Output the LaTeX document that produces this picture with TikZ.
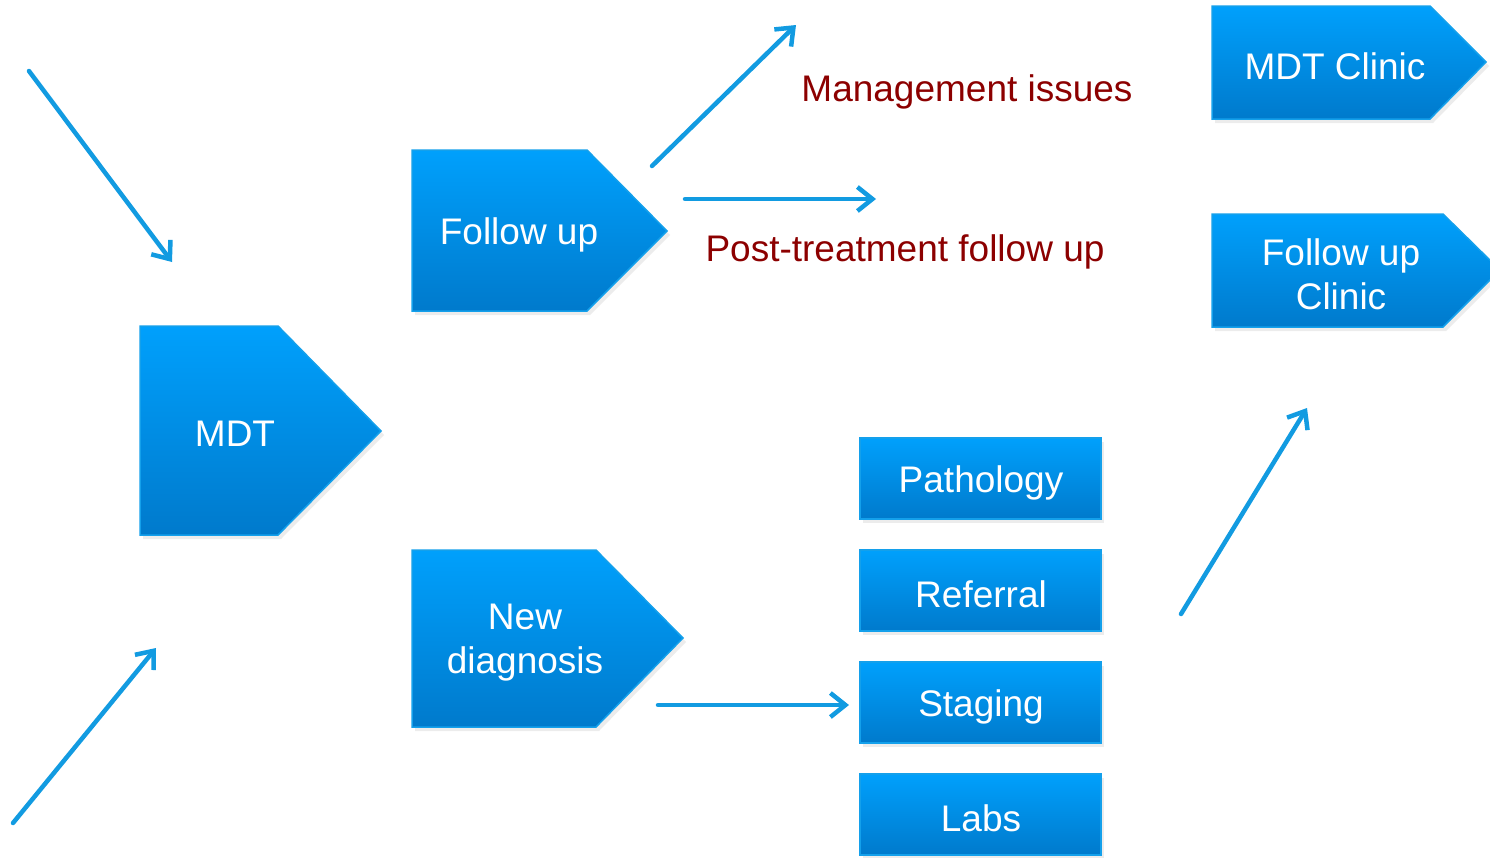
\documentclass[tikz,border=0pt]{standalone}
\usepackage{fontspec}
\setmainfont{Liberation Sans}
\usetikzlibrary{arrows.meta,shadows}
\definecolor{btop}{RGB}{0,160,252}
\definecolor{bbot}{RGB}{0,122,204}
\definecolor{bedge}{RGB}{20,160,235}
\definecolor{arr}{RGB}{18,155,225}
\definecolor{dred}{RGB}{140,0,0}
\tikzset{
  blk/.style={top color=btop, bottom color=bbot, draw=bedge, line width=1.5pt,
    drop shadow={opacity=0.15, shadow xshift=3pt, shadow yshift=-4pt}},
  lbl/.style={text=white, font=\fontsize{37}{44}\selectfont, align=center, inner sep=0pt},
  note/.style={text=dred, font=\fontsize{37}{44}\selectfont, inner sep=0pt},
  conn/.style={draw=arr, line width=4.5pt, line cap=round, -{Straight Barb[length=15pt,width=24pt,line width=4.5pt]}}
}
\begin{document}
\begin{tikzpicture}[x=1pt,y=-1pt]
\useasboundingbox (0,0) rectangle (1490,857);
\begin{scope}
\clip (0,0) rectangle (1490,857);
% pentagon blocks
\path[blk] (140,326) -- (278,326) -- (381,431) -- (278,535) -- (140,535) -- cycle;
\path[blk] (412,150) -- (587,150) -- (667,231) -- (587,311) -- (412,311) -- cycle;
\path[blk] (412,550) -- (596,550) -- (683,638) -- (596,727) -- (412,727) -- cycle;
\path[blk] (1212,6) -- (1430,6) -- (1486,62) -- (1430,119) -- (1212,119) -- cycle;
\path[blk] (1212,214) -- (1443,214) -- (1500,270) -- (1443,327) -- (1212,327) -- cycle;
% rectangles
\path[blk] (860,438) rectangle (1101,519);
\path[blk] (860,550) rectangle (1101,631);
\path[blk] (860,662) rectangle (1101,743);
\path[blk] (860,774) rectangle (1101,855);
\end{scope}
% labels
\node[lbl] (mdt) at (235,434) {MDT};
\node[lbl] (fu) at (519,235) {Follow up};
\node[lbl] (nd) at (525,643) {New\\diagnosis};
\node[lbl] (mdtc) at (1335,66) {MDT Clinic};
\node[lbl] (fuc) at (1341,274) {Follow up\\Clinic};
\node[lbl] (path) at (981,483) {Pathology};
\node[lbl] (ref) at (981,594) {Referral};
\node[lbl] (stag) at (981,707) {Staging};
\node[lbl] (labs) at (981,818) {Labs};
\node[note] (mgmt) at (967,92) {Management issues};
\node[note] (post) at (905,252) {Post-treatment follow up};
% arrow endpoints
\coordinate (a1s) at (29,71);   \coordinate (a1e) at (172,262);
\coordinate (a2s) at (13,823);  \coordinate (a2e) at (156,648);
\coordinate (a3s) at (652,166); \coordinate (a3e) at (796,25);
\coordinate (a4s) at (685,199); \coordinate (a4e) at (876,199);
\coordinate (a5s) at (658,705); \coordinate (a5e) at (849,705);
\coordinate (a6s) at (1181,614);\coordinate (a6e) at (1307,408);
\draw[conn] (a1s) -- (a1e);
\draw[conn] (a2s) -- (a2e);
\draw[conn] (a3s) -- (a3e);
\draw[conn] (a4s) -- (a4e);
\draw[conn] (a5s) -- (a5e);
\draw[conn] (a6s) -- (a6e);
\end{tikzpicture}
\end{document}
